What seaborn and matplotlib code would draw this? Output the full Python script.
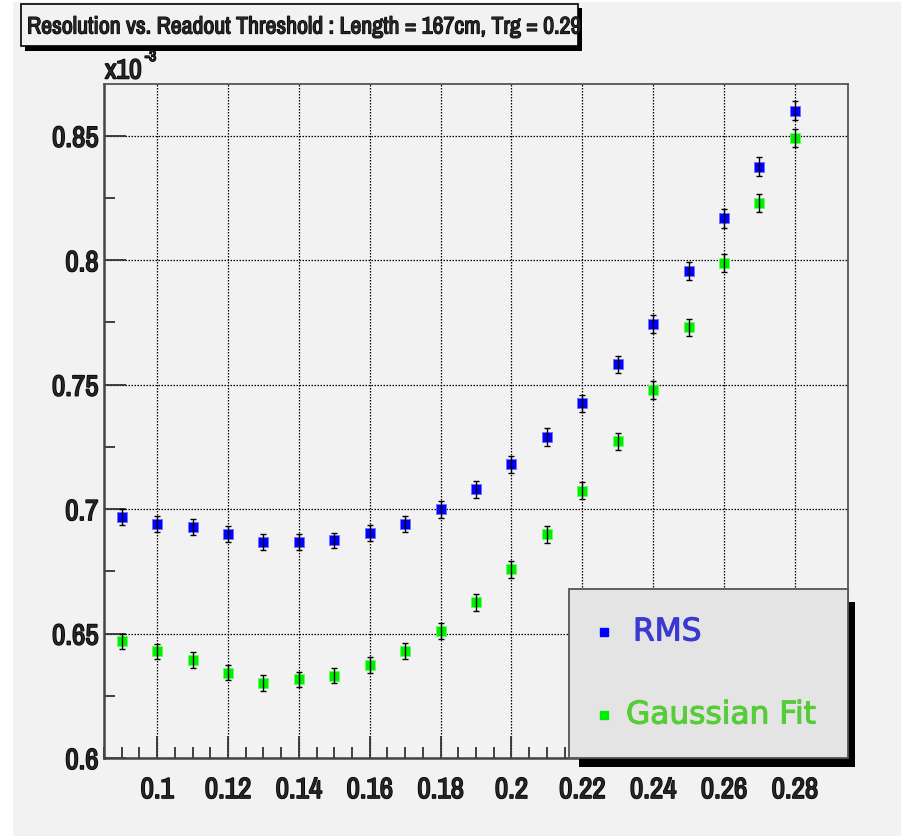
import numpy as np
import pandas as pd
import matplotlib
matplotlib.use("Agg")
import matplotlib.pyplot as plt
import matplotlib.patheffects as pe
from matplotlib.patches import Rectangle
from matplotlib.lines import Line2D
from matplotlib.ticker import MultipleLocator
import seaborn as sns


# readout threshold (x) and resolution in units of 1e-3
threshold = [0.09, 0.10, 0.11, 0.12, 0.13, 0.14, 0.15, 0.16, 0.17, 0.18,
             0.19, 0.20, 0.21, 0.22, 0.23, 0.24, 0.25, 0.26, 0.27, 0.28]

rms = [0.6968, 0.6942, 0.6929, 0.6900, 0.6866, 0.6866, 0.6874, 0.6904, 0.6940, 0.6999,
       0.7079, 0.7180, 0.7290, 0.7425, 0.7582, 0.7743, 0.7956, 0.8168, 0.8376, 0.8601]
rms_err = [0.0032, 0.0032, 0.0032, 0.0032, 0.0032, 0.0032, 0.0032, 0.0033, 0.0033, 0.0033,
           0.0034, 0.0034, 0.0035, 0.0035, 0.0035, 0.0036, 0.0036, 0.0037, 0.0037, 0.0038]

gauss = [0.6469, 0.6429, 0.6394, 0.6343, 0.6302, 0.6316, 0.6331, 0.6375, 0.6431, 0.6509,
         0.6625, 0.6758, 0.6899, 0.7074, 0.7273, 0.7478, 0.7730, 0.7988, 0.8230, 0.8490]
gauss_err = [0.0031, 0.0031, 0.0031, 0.0031, 0.0031, 0.0031, 0.0031, 0.0032, 0.0032, 0.0032,
             0.0033, 0.0033, 0.0034, 0.0034, 0.0034, 0.0035, 0.0035, 0.0036, 0.0036, 0.0037]

series_names = ["RMS", "Gaussian Fit"]
marker_colors = {"RMS": "#0000ff", "Gaussian Fit": "#00ee00"}
edge_colors = {"RMS": "#7070ff", "Gaussian Fit": "#60ff60"}
text_colors = {"RMS": "#3a3ad0", "Gaussian Fit": "#55cc38"}

title = "Resolution vs. Readout Threshold : Length = 167cm, Trg = 0.29"

W, H = 901, 837
BG = "#f2f2f2"
NARROW = ["Archivo Narrow", "Liberation Sans", "DejaVu Sans"]
# the narrow face has no bold cut, so thicken it with a stroke
BOLD = [pe.withStroke(linewidth=1.1, foreground="black")]


def fx(px):
    return px / W


def fy(py):
    return 1 - py / H


df = pd.DataFrame({
    "threshold": threshold * 2,
    "resolution": rms + gauss,
    "err": rms_err + gauss_err,
    "method": [series_names[0]] * len(rms) + [series_names[1]] * len(gauss),
})

sns.set_style("ticks")
plt.rcParams["font.family"] = NARROW

fig = plt.figure(figsize=(W / 100, H / 100), dpi=100, facecolor="white")
fig.patches.append(Rectangle((fx(12.7), 0), 1 - fx(12.7), fy(3), transform=fig.transFigure,
                             facecolor=BG, edgecolor="none", zorder=-10))

ax = fig.add_axes([fx(104), fy(759), fx(848) - fx(104), fy(85) - fy(759)])
ax.set_facecolor(BG)

for name in series_names:
    sub = df[df["method"] == name]
    ax.errorbar(sub["threshold"], sub["resolution"], yerr=sub["err"], fmt="none",
                ecolor="black", elinewidth=1.0, capsize=2.2, capthick=1.0, zorder=4)
    sns.scatterplot(data=sub, x="threshold", y="resolution", color=marker_colors[name],
                    marker="s", s=48, linewidth=0.6, edgecolor=edge_colors[name],
                    legend=False, ax=ax, zorder=3)

ax.set_xlim(0.085, 0.295)
ax.set_ylim(0.6, 0.8708)
ax.set_xlabel("")
ax.set_ylabel("")

ax.xaxis.set_major_locator(MultipleLocator(0.02))
ax.xaxis.set_minor_locator(MultipleLocator(0.005))
ax.yaxis.set_major_locator(MultipleLocator(0.05))
ax.yaxis.set_minor_locator(MultipleLocator(0.025))
ax.xaxis.set_major_formatter(plt.FuncFormatter(lambda v, p: f"{v:g}"))
ax.yaxis.set_major_formatter(plt.FuncFormatter(lambda v, p: f"{v:g}"))

ax.tick_params(axis="both", which="major", direction="in", length=16, width=1.3,
               color="#333333", labelsize=21)
ax.tick_params(axis="both", which="minor", direction="in", length=8, width=1.3,
               color="#333333")
ax.tick_params(axis="x", which="major", pad=13)
ax.tick_params(axis="y", which="major", pad=4)
for lab in ax.get_xticklabels() + ax.get_yticklabels():
    lab.set_family(NARROW)
    lab.set_path_effects(BOLD)

ax.grid(True, which="major", color="black", linestyle=(0, (1.2, 1.2)), linewidth=0.9)
ax.set_axisbelow(True)

for side in ["left", "bottom"]:
    ax.spines[side].set_color("#444444")
    ax.spines[side].set_linewidth(1.8)
for side in ["top", "right"]:
    ax.spines[side].set_color("#555555")
    ax.spines[side].set_linewidth(1.3)

# exponent label
fig.text(fx(105), fy(72), "x10", fontsize=20, family=NARROW,
         ha="left", va="center", path_effects=BOLD)
fig.text(fx(145), fy(58), "-3", fontsize=11, family=NARROW,
         ha="left", va="center", path_effects=BOLD)

# title box with shadow
fig.patches.append(Rectangle((fx(25), fy(52)), fx(582) - fx(25), fy(9) - fy(52),
                             transform=fig.transFigure, facecolor="black", edgecolor="none", zorder=2))
fig.patches.append(Rectangle((fx(20.7), fy(46.7)), fx(578) - fx(20.7), fy(5) - fy(46.7),
                             transform=fig.transFigure, facecolor=BG, edgecolor="black",
                             linewidth=1.2, zorder=3))
fig.text(fx(27), fy(28), title, fontsize=17.2, family=NARROW,
         ha="left", va="center", zorder=4,
         path_effects=[pe.withStroke(linewidth=0.9, foreground="black")])

# legend box with shadow
fig.patches.append(Rectangle((fx(579), fy(768)), fx(855) - fx(579), fy(603) - fy(768),
                             transform=fig.transFigure, facecolor="black", edgecolor="none", zorder=5))
fig.patches.append(Rectangle((fx(569), fy(759)), fx(848) - fx(569), fy(590) - fy(759),
                             transform=fig.transFigure, facecolor="#e4e4e4", edgecolor="#555555",
                             linewidth=1.3, zorder=6))
legend_rows = [(series_names[0], 633, 633), (series_names[1], 716, 626)]
for name, ypx, xtxt in legend_rows:
    fig.add_artist(Line2D([fx(604)], [fy(ypx)], marker="s", markersize=6,
                          color=marker_colors[name], linestyle="none", zorder=7,
                          transform=fig.transFigure))
    fig.text(fx(xtxt), fy(ypx), name, fontsize=22.5, color=text_colors[name],
             family=["DejaVu Sans"], ha="left", va="center", zorder=7,
             path_effects=[pe.withStroke(linewidth=0.8, foreground=text_colors[name])])

fig.savefig("out.png", dpi=100, facecolor="white")
